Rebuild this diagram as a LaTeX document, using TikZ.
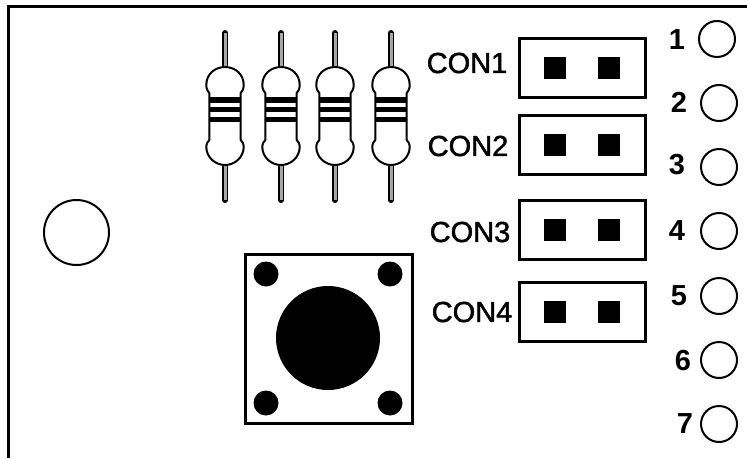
\documentclass[tikz,border=0pt]{standalone}
\usepackage{fontspec}
\setmainfont{Liberation Sans}
\newfontfamily\conheavy[FakeBold=1.6]{Liberation Sans}
\tikzset{
	pad/.style={fill=black,minimum size=22pt,inner sep=0pt},
	hole/.style={draw,circle,line width=2pt,minimum size=36pt,inner sep=0pt},
	bump/.style={fill=black,circle,minimum size=25pt,inner sep=0pt},
	conbox/.style={draw,line width=3pt,minimum width=126pt,minimum height=59pt,inner sep=0pt},
	conlabel/.style={font=\conheavy\fontsize{29}{29}\selectfont,inner sep=0pt},
	pinlabel/.style={font=\bfseries\fontsize{29}{29}\selectfont,inner sep=0pt}
}

\begin{document}
\begin{tikzpicture}[x=1pt,y=-1pt]
	\useasboundingbox (0,0) rectangle (747,458);
	\draw[line width=3pt] (8,458) -- (8,6) -- (747,6);
	\node[draw,circle,line width=2pt,minimum size=65pt,inner sep=0pt] (mount) at (76.5,232.5){};
	% resistors
	\foreach \x/\r in {225/a,281/b,335/c,391/d}{
		\begin{scope}[shift={(\x,0)}]
			\draw[line width=6pt,line cap=round] (0,33) -- (0,67) (0,165) -- (0,200);
			\draw[line width=3pt,gray!70] (0,33) -- (0,67) (0,165) -- (0,200);
			\draw[line width=2pt,fill=white] (-15.7,140) -- (-15.7,93)
				.. controls (-17,91) and (-18.7,90) .. (-18.7,85)
				.. controls (-18.7,74) and (-10,67) .. (0,67)
				.. controls (10,67) and (18.7,74) .. (18.7,85)
				.. controls (18.7,90) and (17,91) .. (15.7,93)
				-- (15.7,140)
				.. controls (17,142) and (18.7,143) .. (18.7,147)
				.. controls (18.7,157) and (10,165) .. (0,165)
				.. controls (-10,165) and (-18.7,157) .. (-18.7,147)
				.. controls (-18.7,143) and (-17,142) .. (-15.7,140) -- cycle;
			\fill (-15.7,97) rectangle (15.7,103);
			\fill (-15.7,107) rectangle (15.7,112);
			\fill (-15.7,117) rectangle (15.7,122);
		\end{scope}
	}
	% connectors
	\foreach \n/\y/\lx/\ly in {1/67.5/467/63,2/145/468/146,3/229.5/470/232,4/311.5/472/312}{
		\node[conbox] (con\n) at (582,\y){};
		\node[pad] (con\n a) at (555,\y){};
		\node[pad] (con\n b) at (609,\y){};
		\node[conlabel] (label\n) at (\lx,\ly){CON\n};
	}
	% pins
	\foreach \n/\lx/\cx/\cy/\ly in {1/677/717/39/40,2/679/719/103/102,3/677/719/167/165,4/677/719/231/231,5/679/719/296/296,6/683/719/360/361,7/685/719/424/424}{
		\node[hole] (pin\n) at (\cx,\cy){};
		\node[pinlabel] (num\n) at (\lx,\ly){\n};
	}
	% switch
	\draw[line width=3pt] (245,254) rectangle (412,423);
	\node[fill=black,circle,minimum size=104pt,inner sep=0pt] (cap) at (328,338){};
	\node[bump] (tl) at (266,274){};
	\node[bump] (tr) at (390,274){};
	\node[bump] (bl) at (266,403){};
	\node[bump] (br) at (390,403){};
\end{tikzpicture}
\end{document}
